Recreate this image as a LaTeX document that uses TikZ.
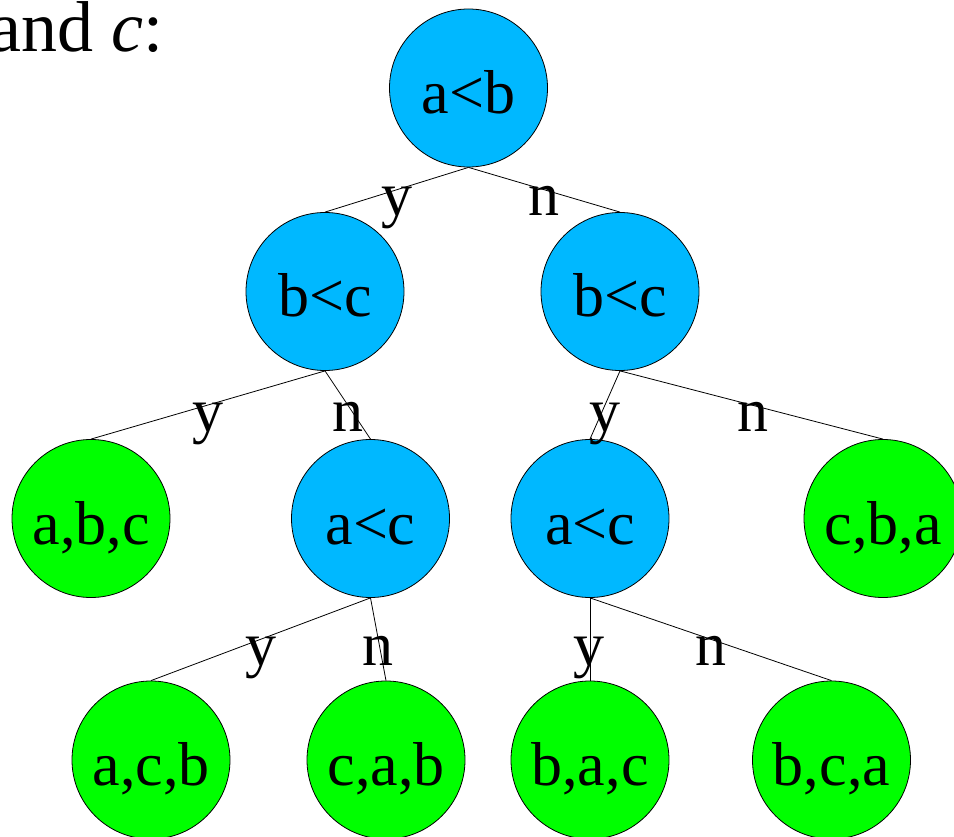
\documentclass[tikz,border=0pt]{standalone}
\usepackage{fontspec}
\setmainfont{Liberation Serif}
\definecolor{testblue}{RGB}{0,184,255}
\definecolor{leafgreen}{RGB}{0,255,0}
\begin{document}
\begin{tikzpicture}[x=1pt,y=-1pt,
  every node/.style={font=\fontsize{62}{70}\selectfont},
  treenode/.style={circle,draw=black,line width=0.8pt,minimum size=158pt,inner sep=0pt,
    text height=51pt,text depth=0pt},
  testnode/.style={treenode,fill=testblue},
  leafnode/.style={treenode,fill=leafgreen},
  edge/.style={draw=black,line width=0.8pt},
  elabel/.style={anchor=base,inner sep=0pt}]
\useasboundingbox (0,0) rectangle (954,837);
\node[anchor=base west,inner sep=0pt,font=\fontsize{72}{80}\selectfont] (intro) at (-11,52) {and \textit{c}:};
% nodes
\node[testnode] (root) at (468.5,88) {a<b};
\node[testnode] (bcL) at (325,291.5) {b<c};
\node[testnode] (bcR) at (620,291.5) {b<c};
\node[leafnode] (abc) at (91,518.5) {a,b,c};
\node[testnode] (acL) at (370.5,518.5) {a<c};
\node[testnode] (acR) at (590,518.5) {a<c};
\node[leafnode] (cba) at (883,518.5) {c,b,a};
\node[leafnode] (acb) at (151,760) {a,c,b};
\node[leafnode] (cab) at (386,760) {c,a,b};
\node[leafnode] (bac) at (590,760) {b,a,c};
\node[leafnode] (bca) at (831.5,760) {b,c,a};
% edges
\draw[edge] (root.south) -- (bcL.north);
\draw[edge] (root.south) -- (bcR.north);
\draw[edge] (bcL.south) -- (abc.north);
\draw[edge] (bcL.south) -- (acL.north);
\draw[edge] (bcR.south) -- (acR.north);
\draw[edge] (bcR.south) -- (cba.north);
\draw[edge] (acL.south) -- (acb.north);
\draw[edge] (acL.south) -- (cab.north);
\draw[edge] (acR.south) -- (bac.north);
\draw[edge] (acR.south) -- (bca.north);
% labels
\node[elabel] (l1) at (396.5,216) {y};
\node[elabel] (l2) at (544,216) {n};
\node[elabel] (l3) at (207.5,431) {y};
\node[elabel] (l4) at (347.5,431) {n};
\node[elabel] (l5) at (605,431) {y};
\node[elabel] (l6) at (752.5,431) {n};
\node[elabel] (l7) at (260.5,665) {y};
\node[elabel] (l8) at (378,665) {n};
\node[elabel] (l9) at (589,665) {y};
\node[elabel] (l10) at (711,665) {n};
\end{tikzpicture}
\end{document}
